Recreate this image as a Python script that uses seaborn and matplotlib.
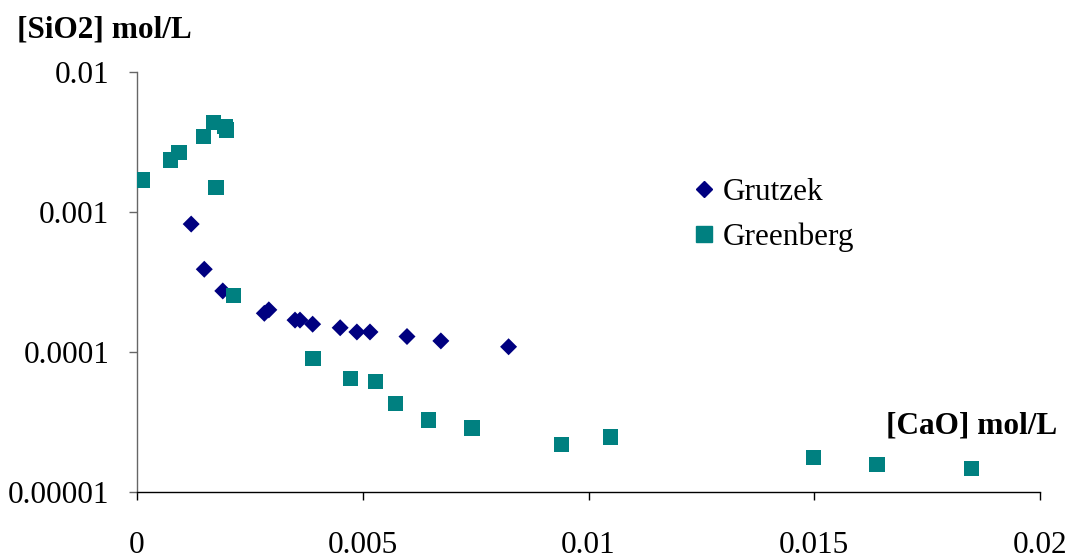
import numpy as np
import pandas as pd
import seaborn as sns
import matplotlib
matplotlib.use("Agg")
import matplotlib.pyplot as plt
from matplotlib.lines import Line2D

# data
grutzek_cao = [0.0012, 0.00149, 0.0019, 0.00282, 0.00292, 0.0035, 0.00361,
               0.00389, 0.0045, 0.00487, 0.00516, 0.00598, 0.00673, 0.00823]
grutzek_sio2 = [0.00082, 0.00039, 0.000273, 0.000189, 0.0002, 0.000169, 0.000169,
                0.000158, 0.000149, 0.000139, 0.000139, 0.000129, 0.00012, 0.000109]

greenberg_cao = [0.00011, 0.00075, 0.00093, 0.00147, 0.00169, 0.00195, 0.00199,
                 0.00175, 0.00213, 0.0039, 0.00472, 0.00529, 0.00572, 0.00645,
                 0.00742, 0.00941, 0.01049, 0.01499, 0.01639, 0.01849]
greenberg_sio2 = [0.00169, 0.00235, 0.00265, 0.00345, 0.00435, 0.00407, 0.00385,
                  0.0015, 0.000252, 0.0000895, 0.0000645, 0.0000616, 0.0000427, 0.0000327,
                  0.0000287, 0.0000218, 0.0000247, 0.0000177, 0.0000158, 0.0000148]

x_ticks = [0, 0.005, 0.01, 0.015, 0.02]
x_tick_labels = ["0", "0.005", "0.01", "0.015", "0.02"]
y_ticks = [0.00001, 0.0001, 0.001, 0.01]
y_tick_labels = ["0.00001", "0.0001", "0.001", "0.01"]

df = pd.concat([
    pd.DataFrame({"CaO": grutzek_cao, "SiO2": grutzek_sio2, "source": "Grutzek"}),
    pd.DataFrame({"CaO": greenberg_cao, "SiO2": greenberg_sio2, "source": "Greenberg"}),
], ignore_index=True)

sns.set_style("white")
plt.rcParams["font.family"] = ["Liberation Serif", "DejaVu Serif"]
plt.rcParams["text.color"] = "black"
plt.rcParams["xtick.labelcolor"] = "black"
plt.rcParams["ytick.labelcolor"] = "black"
fs = 22.5

fig = plt.figure(figsize=(10.7, 5.59), dpi=100)
ax = fig.add_axes([137 / 1070, 1 - 492 / 559, 903 / 1070, 420 / 559])

sns.scatterplot(data=df, x="CaO", y="SiO2", hue="source", style="source",
                palette={"Grutzek": "#000080", "Greenberg": "#008080"},
                markers={"Grutzek": "D", "Greenberg": "s"},
                size="source", sizes={"Grutzek": 75, "Greenberg": 120},
                edgecolor="none", linewidth=0, ax=ax, legend=False, zorder=3)

ax.set_yscale("log")
ax.set_xlim(0, 0.02)
ax.set_ylim(0.00001, 0.01)
ax.set_xticks(x_ticks)
ax.set_xticklabels(x_tick_labels)
ax.set_yticks(y_ticks)
ax.set_yticklabels(y_tick_labels)
ax.minorticks_off()
ax.set_xlabel("")
ax.set_ylabel("")

sns.despine(ax=ax)
ax.spines["left"].set_color("#666666")
ax.spines["bottom"].set_color("black")
ax.spines["left"].set_linewidth(1.0)
ax.spines["bottom"].set_linewidth(1.0)
ax.tick_params(axis="x", bottom=True, direction="out", length=6, width=1,
               color="black", labelcolor="black", pad=22, labelsize=fs)
ax.tick_params(axis="y", left=True, direction="out", length=6, width=1,
               color="#666666", labelcolor="black", pad=14, labelsize=fs)

# legend drawn as plain handles, no frame
handles = [
    Line2D([], [], marker="D", color="#000080", linestyle="none", markersize=8.5),
    Line2D([], [], marker="s", color="#008080", linestyle="none", markersize=11),
]
ax.legend(handles, ["Grutzek", "Greenberg"], loc="upper left",
          bbox_to_anchor=(0.611, 0.748), frameon=False, fontsize=fs,
          handletextpad=0.1, handlelength=1.0, labelspacing=0.5,
          borderpad=0, borderaxespad=0, labelcolor="black")

fig.text(17 / 1070, 1 - 37 / 559, "[SiO2] mol/L", fontsize=fs, color="black",
         fontweight="bold", va="baseline", ha="left")
fig.text(1057 / 1070, 1 - 433 / 559, "[CaO] mol/L", fontsize=fs, color="black",
         fontweight="bold", va="baseline", ha="right")

fig.savefig("out.png", dpi=100)
